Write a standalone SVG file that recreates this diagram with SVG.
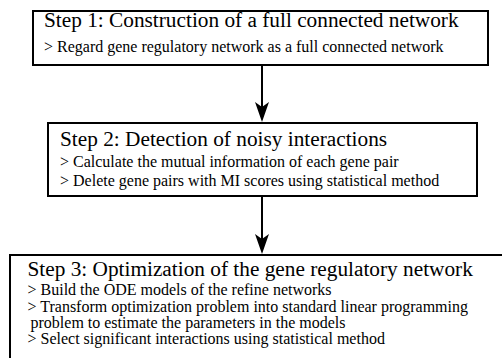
<svg xmlns="http://www.w3.org/2000/svg" width="502" height="358" viewBox="0 0 502 358">
<defs>
<style>
.box{fill:#fff;stroke:#000;stroke-width:2}
.c{stroke:#000;stroke-width:2;fill:none}
.t{font-size:21.3px}
.s{font-size:16px}
</style>
<marker id="ah" markerUnits="userSpaceOnUse" markerWidth="20" markerHeight="14" refX="10" refY="7" orient="auto" viewBox="0 0 20 14">
<path d="M0,0 L20,7 L0,14 L5,7 Z" fill="#000"/>
</marker>
</defs>
<rect width="502" height="358" fill="#fff"/>
<g font-family="Liberation Serif, serif" fill="#000">
<g id="step1">
<rect class="box" x="33" y="11" width="455" height="54"/>
<text class="t" x="44" y="27">Step 1: Construction of a full connected network</text>
<text class="s" x="44" y="52">&gt; Regard gene regulatory network as a full connected network</text>
</g>
<g id="step2">
<rect class="box" x="48" y="123" width="429" height="73"/>
<text class="t" x="60" y="146">Step 2: Detection of noisy interactions</text>
<text class="s" x="60" y="166.5">&gt; Calculate the mutual information of each gene pair</text>
<text class="s" x="60" y="185.5">&gt; Delete gene pairs with MI scores using statistical method</text>
</g>
<g id="step3">
<rect class="box" x="10" y="255" width="500" height="120"/>
<text class="t" x="27.5" y="275.5">Step 3: Optimization of the gene regulatory network</text>
<text class="s" x="27.5" y="295">&gt; Build the ODE models of the refine networks</text>
<text class="s" x="27.5" y="311.5">&gt; Transform optimization problem into standard linear programming</text>
<text class="s" x="30.5" y="327.5">problem to estimate the parameters in the models</text>
<text class="s" x="27.5" y="343.5">&gt; Select significant interactions using statistical method</text>
</g>
</g>
<g id="connectors">
<line class="c" x1="262" y1="65" x2="262" y2="112" marker-end="url(#ah)"/>
<line class="c" x1="262" y1="196" x2="262" y2="244" marker-end="url(#ah)"/>
</g>
</svg>
